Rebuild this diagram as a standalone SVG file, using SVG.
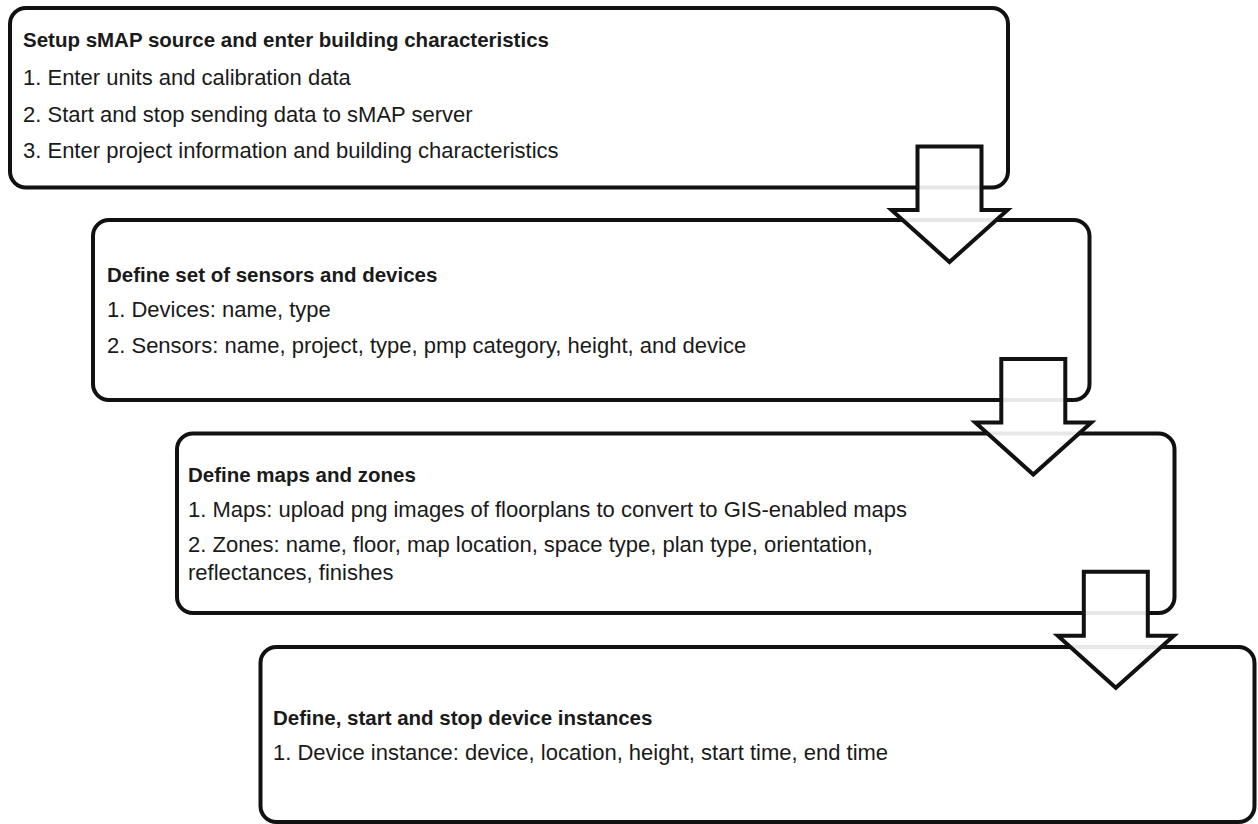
<svg xmlns="http://www.w3.org/2000/svg" width="1258" height="824" viewBox="0 0 1258 824">
<style>
.box{fill:#ffffff;stroke:#111111;stroke-width:4}
.arr{fill:#ffffff;fill-opacity:0.9;stroke:#111111;stroke-width:4;stroke-linejoin:miter;stroke-miterlimit:10}
.t{font-family:"Liberation Sans",Arial,sans-serif;font-size:22px;fill:#1a1a1a}
.h{font-family:"Liberation Sans",Arial,sans-serif;font-size:20.5px;font-weight:bold;fill:#1a1a1a}
</style>
<rect width="1258" height="824" fill="#ffffff"/>
<g id="step1">
<rect class="box" x="10" y="8" width="998" height="179.5" rx="16"/>
<text class="h" x="23" y="46.5">Setup sMAP source and enter building characteristics</text>
<text class="t" x="23" y="85">1. Enter units and calibration data</text>
<text class="t" x="23" y="121.5">2. Start and stop sending data to sMAP server</text>
<text class="t" x="23" y="158">3. Enter project information and building characteristics</text>
</g>
<g id="step2">
<rect class="box" x="93" y="220" width="996.5" height="180" rx="16"/>
<text class="h" x="107" y="281.5">Define set of sensors and devices</text>
<text class="t" x="107" y="317">1. Devices: name, type</text>
<text class="t" x="107" y="352.5">2. Sensors: name, project, type, pmp category, height, and device</text>
</g>
<g id="step3">
<rect class="box" x="177" y="433.5" width="997.5" height="179.5" rx="16"/>
<text class="h" x="188" y="481.5">Define maps and zones</text>
<text class="t" x="188" y="516.5">1. Maps: upload png images of floorplans to convert to GIS-enabled maps</text>
<text class="t" x="188" y="551.5">2. Zones: name, floor, map location, space type, plan type, orientation,</text>
<text class="t" x="188" y="579.5">reflectances, finishes</text>
</g>
<g id="step4">
<rect class="box" x="260.5" y="647" width="994" height="175" rx="16"/>
<text class="h" x="273" y="725">Define, start and stop device instances</text>
<text class="t" x="273" y="759.5">1. Device instance: device, location, height, start time, end time</text>
</g>
<g id="connectors">
<path class="arr" d="M917.5,146.5 H981.5 V210 H1007.5 L949.5,262 L891.5,210 H917.5 Z"/>
<path class="arr" d="M1001.3,359 H1065.3 V422.5 H1091.3 L1033.3,474.5 L975.3,422.5 H1001.3 Z"/>
<path class="arr" d="M1083.8,571.7 H1147.8 V635.8 H1173.8 L1115.8,687.8 L1057.8,635.8 H1083.8 Z"/>
</g>
</svg>
